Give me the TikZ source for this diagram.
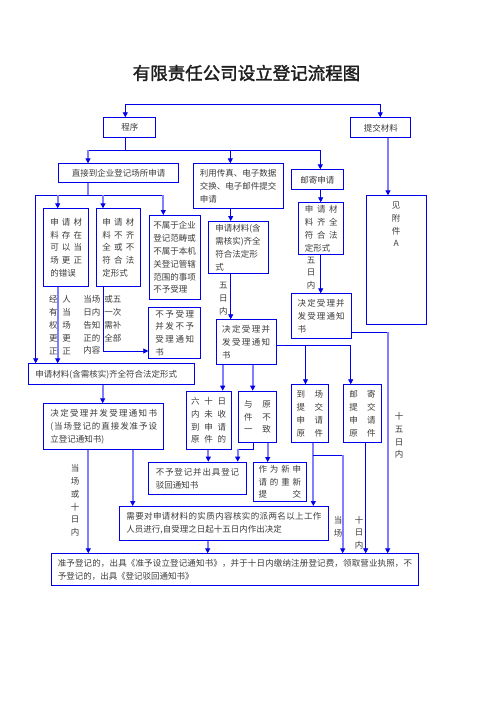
\documentclass[tikz,border=0pt]{standalone}
\usepackage{fontspec}
\newfontfamily\cjk{Noto Sans CJK SC}
\newfontfamily\cjkb{Noto Sans CJK SC}[FakeBold=2]
\usetikzlibrary{arrows.meta,calc}
\definecolor{bl}{RGB}{0,0,235}
\definecolor{lb}{RGB}{128,128,255}
\definecolor{tx}{RGB}{60,60,60}
\setlength\parindent{0pt}
\makeatletter
\def\spreadline#1{\leavevmode\hbox to\hsize{\sp@loop#1\sp@end}}
\def\sp@loop#1#2\sp@end{#1\if\relax\detokenize{#2}\relax\else\hfil\sp@loop#2\sp@end\fi}
\makeatother
\newcommand\ctr[1]{\leavevmode\hbox to\hsize{\hfil#1\hfil}}
\newcommand\bx[7]{\pgfmathsetmacro\bxtw{#4-2*#6}\node[box,minimum width=#4pt,minimum height=#5pt,inner xsep=#6pt,text width=\bxtw pt] (#1) at (#2,#3) {#7};}
\tikzset{
  box/.style={draw=bl, line width=0.9pt, inner ysep=0pt, align=left, font=\cjk\fontsize{8.5}{12.8}\selectfont, text=tx, anchor=north west},
  lab/.style={inner sep=0pt, align=center, font=\cjk\fontsize{8.5}{12.8}\selectfont, text=tx},
  dk/.style={draw=bl, line width=0.8pt},
  lt/.style={draw=lb, line width=2.2pt},
  arr/.style={-{Triangle[length=5pt,width=5pt,color=bl]}},
  arr2/.style={{Triangle[length=5pt,width=5pt,color=bl]}-{Triangle[length=5pt,width=5pt,color=bl]}}
}
\begin{document}
\begin{tikzpicture}[x=1pt,y=-1pt]
\useasboundingbox (0,0) rectangle (496,702);
\fill[white] (0,0) rectangle (496,702);
\node[font=\cjkb\fontsize{17.5}{20}\selectfont, text={rgb,255:red,30;green,30;blue,30}] (title) at (246.5,73) {有限责任公司设立登记流程图};

\bx{chengxu}{103.3}{117.3}{52}{20}{4}{\ctr{程序}}
\bx{tijiao}{350.3}{117.3}{60}{20}{4}{\ctr{提交材料}}
\bx{zhijie}{58.3}{163.3}{120}{19}{4}{\ctr{直接到企业登记场所申请}}
\bx{liyong}{193.3}{163.3}{90}{45}{6}{利用传真、电子数据\\交换、电子邮件提交\\申请}
\bx{youji}{290.7}{169.3}{52.6}{20}{4}{\ctr{邮寄申请}}
\bx{b1}{43.3}{208.3}{45}{77.7}{6.5}{\spreadline{申请材}\\\spreadline{料存在}\\\spreadline{可以当}\\\spreadline{场更正}\\的错误}
\bx{b2}{95.7}{208.3}{44.6}{77.7}{6.3}{\spreadline{申请材}\\\spreadline{料不齐}\\\spreadline{全或不}\\\spreadline{符合法}\\定形式}
\bx{b3}{149}{215}{51.3}{84.3}{4}{不属于企业\\登记范畴或\\不属于本机\\关登记管辖\\范围的事项\\不予受理}
\bx{m1}{208.3}{221}{60}{52.3}{6.5}{申请材料(含\\需核实)齐全\\符合法定形\\式}
\bx{r1}{298.3}{202.3}{45}{52}{6}{\spreadline{申请材}\\\spreadline{料齐全}\\\spreadline{符合法}\\定形式}
\node[box,minimum width=60pt,minimum height=129pt,inner sep=0pt] (fuA) at (365.7,195.3) {\vbox to 125pt{\hsize=60pt\vskip4pt\hbox to60pt{\hfil 见\hfil}\hbox to60pt{\hfil 附\hfil}\hbox to60pt{\hfil 件\hfil}\hbox to60pt{\hfil A\hfil}\vfill}};
\bx{buyu1}{148.3}{306.7}{52}{51.6}{6.7}{\spreadline{不予受理}\\\spreadline{并发不予}\\\spreadline{受理通知}\\书}
\bx{m2}{215.7}{319.3}{60}{45}{6}{\spreadline{决定受理并}\\\spreadline{发受理通知}\\书}
\bx{r2}{290.7}{293.3}{60}{45}{6.5}{\spreadline{决定受理并}\\\spreadline{发受理通知}\\书}
\bx{wide}{28.3}{363.3}{165.4}{21}{6.7}{申请材料(含需核实)齐全符合法定形式}
\bx{jd}{43.3}{403.3}{120}{45.7}{6.7}{\spreadline{决定受理并发受理通知书}\\\spreadline{(当场登记的直接发准予设}\\立登记通知书)}
\bx{liushi}{185.7}{390.7}{45}{58.6}{5}{\spreadline{六十日}\\\spreadline{内未收}\\\spreadline{到申请}\\\spreadline{原件的}}
\bx{yuyuan}{238.3}{390.7}{37.4}{51.6}{5.3}{\spreadline{与原}\\\spreadline{件不}\\\spreadline{一致}}
\bx{daochang}{290.7}{384.3}{37.6}{58}{5.5}{\spreadline{到场}\\\spreadline{提交}\\\spreadline{申请}\\\spreadline{原件}}
\bx{youjitj}{343.3}{384.3}{37.4}{58}{5.5}{\spreadline{邮寄}\\\spreadline{提交}\\\spreadline{申请}\\\spreadline{原件}}
\bx{buyudj}{148.3}{461.7}{97.4}{32.6}{7}{\spreadline{不予登记并出具登记}\\驳回通知书}
\bx{zuowei}{253.3}{462}{52.2}{39}{4.8}{\spreadline{作为新申}\\\spreadline{请的重新}\\\spreadline{提交}}
\bx{xuyao}{118.7}{506}{209.6}{34}{7.3}{\spreadline{需要对申请材料的实质内容核实的派两名以上工作}\\人员进行,自受理之日起十五日内作出决定}
\bx{final}{50.7}{553.3}{367.6}{31.7}{6.6}{\spreadline{准予登记的，出具《准予设立登记通知书》，并于十日内缴纳注册登记费，领取营业执照，不}\\予登记的，出具《登记驳回通知书》}

% labels
\node[lab] (l5a) at (223.3,298.7) {五\\日\\内};
\node[lab] (l5b) at (311,273) {五\\日\\内};
\node[lab,align=left] (lj) at (60,325.1) {经\hspace{4.8pt}人\\有\hspace{4.8pt}当\\权\hspace{4.8pt}场\\更\hspace{4.8pt}更\\正\hspace{4.8pt}正};
\node[lab,align=left] (ld) at (102.4,325.1) {当场\hspace{4pt}或五\\日内\hspace{4pt}一次\\告知\hspace{4pt}需补\\正的\hspace{4pt}全部\\内容};
\node[lab] (l10) at (75,500.5) {当\\场\\或\\十\\日\\内};
\node[lab] (l15) at (399,435.5) {十\\五\\日\\内};
\node[lab] (lds) at (338,526.5) {当\\场};
\node[lab] (l10b) at (359,532.7) {十\\日\\内};

% connectors
\coordinate (tA) at (125.3,104.3);
\coordinate (tB) at (380.3,104.3);
\draw[dk,arr2] (tA |- chengxu.north) -- (tA) -- (tB) -- (tB |- tijiao.north);
\coordinate (j1) at (125.3,150);
\coordinate (j1a) at (88,150);
\coordinate (j1b) at (230.3,150);
\coordinate (j1c) at (320.3,150);
\draw[dk] (j1 |- chengxu.south) -- (j1);
\draw[dk] (j1a) -- (j1c);
\draw[lt,arr] (j1a) -- (j1a |- zhijie.north);
\draw[dk,arr] (j1b) -- (j1b |- liyong.north);
\draw[dk,arr] (j1c) -- (j1c |- youji.north);
\draw[lt,arr] (388,0 |- tijiao.south) -- (388,0 |- fuA.north);

\coordinate (j2) at (88,195);
\coordinate (j2a) at (35.7,195);
\coordinate (j2b) at (57.7,195);
\coordinate (j2c) at (103,195);
\coordinate (j2d) at (163.3,195);
\draw[lt] (j2 |- zhijie.south) -- (j2);
\draw[dk] (j2a) -- (j2d);
\draw[dk,arr] (j2a) -- (j2a |- wide.north);
\draw[lt,arr] (j2b) -- (j2b |- b1.north);
\draw[lt,arr] (j2c) -- (j2c |- b2.north);
\draw[lt,arr] (j2d) -- (j2d |- b3.north);

\draw[dk,arr] (230.7,0 |- liyong.south) -- (230.7,0 |- m1.north);
\draw[dk,arr] (320.7,0 |- youji.south) -- (320.7,0 |- r1.north);
\draw[dk,arr] (320.7,0 |- r1.south) -- (320.7,0 |- r2.north);
\draw[dk,arr] (230.7,0 |- m1.south) -- (230.7,0 |- m2.north);
\draw[lt,arr] (57.7,0 |- b1.south) -- (57.7,0 |- wide.north);
\draw[dk,arr] (103,0 |- b2.south) |- (buyu1.west |- 0,351);
\draw[lt,arr] (102.7,0 |- wide.south) -- (102.7,0 |- jd.north);
\draw[lt,arr] (88.3,0 |- jd.south) -- (88.3,0 |- final.north);
\draw[lt,arr] (132.7,0 |- jd.south) -- (132.7,0 |- xuyao.north);
\draw[lt,arr] (207.7,0 |- xuyao.south) -- (207.7,0 |- final.north);
\draw[lt,arr] (222.7,0 |- m2.south) -- (222.7,0 |- liushi.north);
\draw[lt,arr] (252.7,0 |- m2.south) -- (252.7,0 |- yuyuan.north);

\coordinate (j16) at (350.7,345.7);
\coordinate (j16b) at (305.5,345.7);
\draw[dk,arr] (m2.east |- j16) -- (j16) -- (j16 |- youjitj.north);
\draw[dk,arr] (j16b) -- (j16b |- daochang.north);
\coordinate (j17) at (387.7,332.3);
\draw[dk] (r2.east |- j17) -- (j17);
\draw[lt,arr] (j17) -- (j17 |- final.north);

\draw[lt,arr] (208.3,0 |- liushi.south) -- (208.3,0 |- buyudj.north);
\coordinate (j19a) at (253.3,449.3);
\coordinate (j19b) at (237.7,449.3);
\draw[dk] (j19a |- yuyuan.south) -- (j19a) -- (j19b);
\draw[lt,arr] (j19b) -- (j19b |- buyudj.north);
\draw[lt,arr] (267.7,0 |- yuyuan.south) -- (267.7,0 |- zuowei.north);

\draw[lt,arr] (313.3,0 |- daochang.south) -- (313.3,0 |- xuyao.north);
\coordinate (j21a) at (313.3,455.3);
\coordinate (j21b) at (342.7,455.3);
\draw[dk] (j21a) -- (j21b);
\draw[lt,arr] (j21b) -- (j21b |- final.north);
\draw[dk,arr] (365.7,0 |- youjitj.south) -- (365.7,0 |- final.north);
\end{tikzpicture}
\end{document}
